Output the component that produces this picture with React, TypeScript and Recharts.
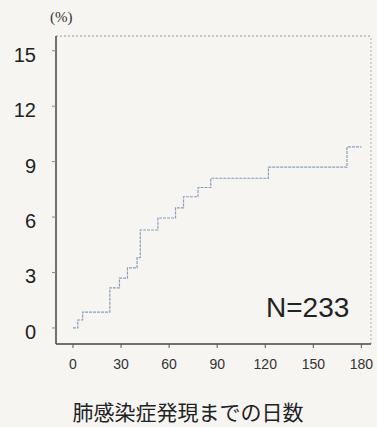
import React from "react";
import { ComposedChart, Line, XAxis, YAxis, ReferenceLine } from "recharts";

const days = [0, 3, 6, 23, 29, 34, 40, 42, 53, 64, 69, 78, 86, 122, 171, 180];
const cumulativePct = [0, 0.43, 0.86, 2.17, 2.7, 3.25, 3.8, 5.3, 5.95, 6.5, 7.1, 7.6, 8.1, 8.7, 9.8, 9.8];
const xTicks = [0, 30, 60, 90, 120, 150, 180];
const yTicks = [0, 3, 6, 9, 12, 15];
const yUnit = "(%)";
const nLabel = "N=233";
const xTitle = "肺感染症発現までの日数";

const X_DOMAIN: [number, number] = [-10.6, 186];
const Y_DOMAIN: [number, number] = [-0.87, 15.8];

const data = days.map((d, i) => ({ day: d, pct: cumulativePct[i] }));

const YTick = (props: any) => {
  const { x, y, payload } = props;
  return (
    <text x={x} y={y + 4} textAnchor="end" dominantBaseline="central" fontFamily="Liberation Sans, Arial, sans-serif" fontSize={20} fill="#222">
      {payload.value}
    </text>
  );
};

const XTick = (props: any) => {
  const { x, y, payload } = props;
  return (
    <text x={x} y={y + 12} textAnchor="middle" dominantBaseline="central" fontFamily="Liberation Sans, Arial, sans-serif" fontSize={14} fill="#333">
      {payload.value}
    </text>
  );
};

export default function App() {
  return (
    <div style={{ position: "absolute", left: 0, top: 0, width: 377, height: 427, background: "#f6f5f2", overflow: "hidden" }}>
      <ComposedChart width={377} height={427} data={data} margin={{ top: 36, right: 6, bottom: 53, left: 0 }}>
        <XAxis
          dataKey="day"
          type="number"
          domain={X_DOMAIN}
          ticks={xTicks}
          tick={<XTick />}
          tickSize={4}
          tickMargin={4}
          height={30}
          axisLine={{ stroke: "#444", strokeWidth: 1.5 }}
          tickLine={{ stroke: "#555" }}
          allowDataOverflow
        />
        <YAxis
          type="number"
          domain={Y_DOMAIN}
          ticks={yTicks}
          tick={<YTick />}
          tickSize={4}
          tickMargin={16}
          width={56}
          axisLine={{ stroke: "#444", strokeWidth: 1.5 }}
          tickLine={{ stroke: "#888" }}
          allowDataOverflow
        />
        <ReferenceLine y={Y_DOMAIN[1]} stroke="#9a9a9a" strokeDasharray="2 2" ifOverflow="visible" />
        <ReferenceLine x={X_DOMAIN[1]} stroke="#b0b0b0" strokeDasharray="2 2" ifOverflow="visible" />
        <Line
          type="stepAfter"
          dataKey="pct"
          stroke="#8a9dbd"
          strokeWidth={1.2}
          strokeDasharray="3 1"
          dot={false}
          isAnimationActive={false}
        />
      </ComposedChart>
      <div style={{ position: "absolute", left: 50, top: 9, fontFamily: "Liberation Serif, serif", fontSize: 15, color: "#333" }}>{yUnit}</div>
      <div style={{ position: "absolute", left: 266, top: 292, fontFamily: "Liberation Sans, Arial, sans-serif", fontSize: 28, color: "#222", lineHeight: "32px" }}>{nLabel}</div>
      <div style={{ position: "absolute", left: 70, top: 398, width: 236, textAlign: "center", fontFamily: "Noto Sans CJK JP, sans-serif", fontWeight: 400, fontSize: 21, color: "#222", lineHeight: "26px", whiteSpace: "nowrap" }}>{xTitle}</div>
    </div>
  );
}
